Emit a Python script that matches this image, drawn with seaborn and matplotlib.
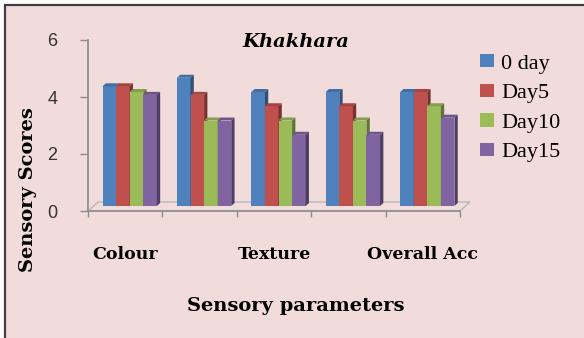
import numpy as np
import pandas as pd
import matplotlib
matplotlib.use("Agg")
import matplotlib.pyplot as plt
import seaborn as sns
from matplotlib.patches import Polygon, Rectangle, Patch
from matplotlib.colors import to_rgb

# ---- data ----
categories = ["Colour", "Flavour", "Texture", "Taste", "Overall Acc"]
tick_labels = ["Colour", "", "Texture", "", "Overall Acc"]
series = ["0 day", "Day5", "Day10", "Day15"]
day0 = [4.2, 4.5, 4.0, 4.0, 4.0]
day5 = [4.2, 3.9, 3.5, 3.5, 4.0]
day10 = [4.0, 3.0, 3.0, 3.0, 3.5]
day15 = [3.9, 3.0, 2.5, 2.5, 3.1]
colors = ["#4F81BD", "#C0504D", "#9BBB59", "#8064A2"]
yticks = [0, 2, 4, 6]

df = pd.DataFrame({
    "param": categories * 4,
    "day": np.repeat(series, len(categories)),
    "score": day0 + day5 + day10 + day15,
})

W, H = 584, 338
fig = plt.figure(figsize=(W / 100, H / 100), dpi=100)
fig.patch.set_facecolor("white")
bg = Rectangle((5 / W, -0.2), 1.5, 1.2 - 5 / H, transform=fig.transFigure,
               facecolor="#F2DCDB", edgecolor="#3f3f3f", linewidth=1.6, zorder=0)
fig.add_artist(bg)

ax_l, ax_r, ax_b, ax_t = 88, 460, 211, 40
ax = fig.add_axes([ax_l / W, 1 - ax_b / H, (ax_r - ax_l) / W, (ax_b - ax_t) / H])
ax.set_facecolor("none")

sns.barplot(data=df, x="param", y="score", hue="day", order=categories,
            hue_order=series, palette=colors, saturation=1, width=0.73,
            edgecolor="none", linewidth=0, errorbar=None, legend=False, ax=ax)

ax.set_xlim(-0.5, len(categories) - 0.5)
ax.set_ylim(0, 6)

ppx = (ax_r - ax_l) / len(categories)
ppy = (ax_b - ax_t) / 6.0
ox, oy = 4.5 / ppx, 5.0 / ppy
ddx, ddy = 3.3 / ppx, 3.0 / ppy


def shade(c, f):
    r, g, b = to_rgb(c)
    return (r * f, g * f, b * f)


bars = [p for p in ax.patches if isinstance(p, Rectangle) and p.get_height() > 0]
bars.sort(key=lambda p: p.get_x())
for k, p in enumerate(bars):
    x, w, h = p.get_x(), p.get_width(), p.get_height()
    fc = p.get_facecolor()
    z = 3 + k * 0.01
    p.set_x(x + ox)
    p.set_y(oy)
    p.set_zorder(z)
    p.set_clip_on(False)
    x0 = x + ox
    top = Polygon([(x0, h + oy), (x0 + w, h + oy), (x0 + w + ddx, h + oy + ddy),
                   (x0 + ddx, h + oy + ddy)], closed=True,
                  facecolor=shade(fc, 0.85), edgecolor="none", zorder=z + 0.001,
                  clip_on=False)
    side = Polygon([(x0 + w, oy), (x0 + w + ddx, oy + ddy), (x0 + w + ddx, h + oy + ddy),
                    (x0 + w, h + oy)], closed=True,
                   facecolor=shade(fc, 0.62), edgecolor="none", zorder=z + 0.002,
                   clip_on=False)
    ax.add_patch(top)
    ax.add_patch(side)

# 3D floor
fdx, fdy = 10 / ppx, 9 / ppy
xa, xb = -0.5, len(categories) - 0.5
floor = Polygon([(xa, 0), (xb, 0), (xb + fdx, fdy), (xa + fdx, fdy)], closed=True,
                fill=False, edgecolor="#b8b8b8", linewidth=1.0, zorder=1.5,
                clip_on=False)
ax.add_patch(floor)

# axes styling
for s in ["top", "right"]:
    ax.spines[s].set_visible(False)
for s in ["left", "bottom"]:
    ax.spines[s].set_color("#8c8c8c")
    ax.spines[s].set_linewidth(1.2)
    ax.spines[s].set_zorder(2)

ax.set_yticks(yticks)
ax.set_yticklabels([str(v) for v in yticks], family="Liberation Sans",
                   fontsize=13, color="#333333")
ax.tick_params(axis="y", direction="out", length=6, width=1, color="#8c8c8c", pad=16)

ax.set_xticks(range(len(categories)))
ax.set_xticklabels(tick_labels, family="DejaVu Serif", fontweight="bold",
                   fontsize=12.5, color="black")
ax.tick_params(axis="x", which="major", length=0, pad=25)
ax.set_xticks(np.arange(-0.5, len(categories), 1.0), minor=True)
ax.tick_params(axis="x", which="minor", direction="out", length=4, width=1,
               color="#8c8c8c")

ax.set_xlabel("Sensory parameters", family="DejaVu Serif", fontweight="bold",
              fontsize=14)
ax.xaxis.set_label_coords((296 - ax_l) / (ax_r - ax_l), (ax_b - 306) / (ax_b - ax_t))
ax.xaxis.label.set_va("center")
ax.set_ylabel("Sensory Scores", family="DejaVu Serif", fontweight="bold",
              fontsize=14)
ax.yaxis.set_label_coords((28 - ax_l) / (ax_r - ax_l), (ax_b - 190) / (ax_b - ax_t))
ax.yaxis.label.set_va("center")

ax.text((296 - ax_l) / (ax_r - ax_l), (ax_b - 42) / (ax_b - ax_t), "Khakhara",
        transform=ax.transAxes, ha="center", va="center", family="DejaVu Serif",
        fontweight="bold", fontstyle="italic", fontsize=14)

handles = [Patch(facecolor=c, edgecolor="none", label=s) for c, s in zip(colors, series)]
leg = fig.legend(handles=handles, loc="upper left",
                 bbox_to_anchor=(480 / W, 1 - 54 / H), frameon=False,
                 prop={"family": "Liberation Serif", "size": 16},
                 handlelength=0.65, handleheight=0.55, handletextpad=0.3,
                 labelspacing=0.45, borderpad=0, borderaxespad=0)

fig.savefig("out.png", dpi=100, facecolor=fig.get_facecolor())
